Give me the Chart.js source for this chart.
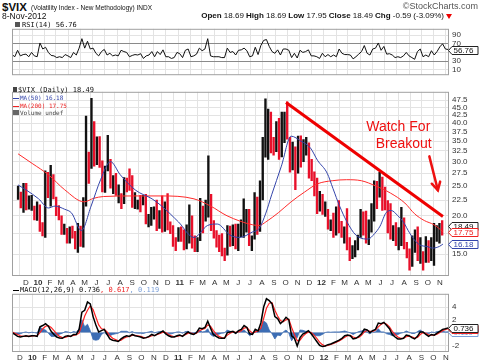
<!DOCTYPE html>
<html><head><meta charset="utf-8">
<script src="https://cdn.jsdelivr.net/npm/chart.js@4"></script>
<style>
body{margin:0;background:#fff;width:480px;height:363px;overflow:hidden;position:relative;font-family:"Liberation Sans",Arial,sans-serif;color:#111}
.t{position:absolute;white-space:nowrap;line-height:1}
.m{font-family:"DejaVu Sans Mono","Liberation Mono",monospace}
canvas{position:absolute;left:0}
</style></head><body>
<canvas id="c1" width="480" height="62" style="top:21px"></canvas>
<canvas id="c2" width="480" height="202" style="top:84px"></canvas>
<canvas id="c3" width="480" height="77" style="top:286px"></canvas>

<div class="t" style="left:2px;top:2.2px;font-size:11.5px;font-weight:bold">$VIX</div>
<div class="t" style="left:31px;top:5.2px;font-size:6.5px">(Volatility Index - New Methodology) INDX</div>
<div class="t" style="left:2px;top:12px;font-size:8.5px">8-Nov-2012</div>
<div class="t" style="right:36px;top:12px;font-size:8px"><b>Open</b> 18.69 <b>High</b> 18.69 <b>Low</b> 17.95 <b>Close</b> 18.49 <b>Chg</b> -0.59 (-3.09%)</div>
<div style="position:absolute;left:446px;top:14px;width:0;height:0;border-left:3px solid transparent;border-right:3px solid transparent;border-top:5px solid #e00"></div>
<div class="t" style="right:2px;top:2.3px;font-size:9px;color:#555">©StockCharts.com</div>

<div class="t m" style="left:15px;top:22px;font-size:7px"><span style="display:inline-block;width:5px;height:5px;background:#555;margin-right:2px"></span>RSI(14) 56.76</div>

<div class="t m" style="left:13px;top:87.2px;font-size:7px"><span style="display:inline-block;width:4px;height:5px;background:#444;margin-right:1px"></span>$VIX (Daily) 18.49</div>
<div class="t m" style="left:13px;top:95.3px;font-size:6px;color:#3344aa"><span style="display:inline-block;width:6px;height:1.5px;background:#3344aa;vertical-align:middle;margin-right:1px"></span>MA(50) 16.18</div>
<div class="t m" style="left:13px;top:103px;font-size:6px;color:#ee2222"><span style="display:inline-block;width:6px;height:1.5px;background:#ee2222;vertical-align:middle;margin-right:1px"></span>MA(200) 17.75</div>
<div class="t m" style="left:13px;top:110.3px;font-size:6px;color:#444"><span style="display:inline-block;width:6px;height:5px;background:#666;margin-right:1px"></span>Volume undef</div>

<div class="t m" style="left:13px;top:287.2px;font-size:7px"><span style="display:inline-block;width:6px;height:1.5px;background:#000;vertical-align:middle;margin-right:1px"></span>MACD(12,26,9) 0.736<span style="color:#e22">, 0.617</span><span style="color:#7a9fd8">, 0.119</span></div>

<script>
// ---- data (weekly, week 0 = week of 9-Nov-2009) ----
const highs = [
25.0,23.9,25.5,25.5,23.2,23.3,21.5,22.2,21.7,19.0,
28.0,27.7,29.2,27.2,23.0,21.6,20.0,18.8,18.2,18.4,
18.5,17.8,18.9,18.5,22.9,42.2,32.2,48.2,40.5,36.1,
36.2,30.2,29.0,36.5,30.5,27.0,27.5,25.2,23.6,26.6,
26.5,28.4,27.0,23.8,22.5,23.3,23.3,23.5,20.2,21.3,
21.4,22.5,20.8,23.2,22.2,23.6,19.1,18.6,17.0,18.3,
18.4,18.0,18.7,21.7,20.0,17.2,17.0,22.8,21.5,22.5,
31.3,23.5,19.3,17.9,17.3,17.5,15.7,18.6,18.5,18.7,
18.8,18.8,19.4,22.7,21.0,21.0,17.2,23.8,23.0,26.0,
36.0,48.0,44.5,43.5,36.0,40.5,41.5,43.5,43.5,46.9,
36.0,34.7,33.5,36.3,36.4,35.4,36.0,34.5,30.5,27.8,
26.5,24.0,23.5,22.2,21.0,19.4,20.4,21.4,22.4,19.2,
18.4,21.1,17.0,16.0,16.6,17.3,21.0,20.6,20.7,19.4,
21.9,26.0,25.9,27.7,26.7,24.8,22.4,21.9,18.6,19.0,
18.3,21.3,19.7,16.4,15.6,17.2,18.0,18.4,17.0,15.3,
17.1,16.6,17.0,18.9,18.6,18.9,19.3];
const lows = [
22.6,21.2,20.5,20.9,21.0,20.8,19.4,19.3,17.8,17.2,
17.0,22.9,21.5,22.7,20.0,19.4,17.4,17.4,16.3,16.3,
16.9,15.6,15.2,15.9,15.8,21.5,25.5,28.5,29.0,29.3,
28.7,23.9,23.8,28.0,24.6,23.6,23.3,22.0,21.1,21.9,
23.9,24.2,21.3,21.1,21.0,20.6,21.7,18.8,18.4,18.6,
19.5,17.9,18.2,17.7,17.8,18.0,17.5,15.9,15.4,16.5,
16.5,15.5,15.6,16.3,15.7,15.3,15.3,16.6,17.6,19.2,
19.8,17.9,16.9,15.8,15.3,14.8,14.3,14.9,15.9,16.0,
15.6,15.4,17.1,17.0,17.7,16.0,15.4,16.8,17.4,17.8,
22.5,31.0,30.5,32.0,31.5,32.3,30.5,31.1,34.6,35.5,
27.7,28.2,24.3,27.5,28.8,30.0,31.5,26.5,26.0,23.2,
20.3,20.7,20.2,19.9,18.1,17.9,17.0,17.3,17.6,17.0,
16.3,15.5,14.3,14.5,14.7,15.5,17.0,17.3,16.3,16.1,
17.7,19.2,21.1,23.0,20.8,20.9,17.6,16.8,16.6,16.0,
15.5,16.0,15.6,14.6,13.3,13.7,15.2,14.3,14.0,13.3,
14.1,14.1,14.3,13.8,16.5,16.3,17.3];
const closes = [
23.0,21.6,24.7,21.2,21.6,21.7,19.5,21.7,18.1,17.9,
27.3,24.6,26.1,22.7,20.0,19.5,17.4,17.6,16.9,17.8,
17.0,16.1,18.4,16.6,22.1,40.9,31.2,40.1,32.1,35.5,
28.8,24.3,28.5,30.1,24.9,26.3,23.5,23.5,22.1,26.2,
25.5,24.5,21.3,21.9,22.0,21.7,22.5,18.9,19.0,19.3,
21.2,18.3,20.6,18.0,22.0,18.0,17.6,16.1,16.0,17.8,
17.1,15.5,18.5,20.0,15.9,15.7,16.4,19.2,18.7,20.1,
24.3,18.0,17.4,16.3,15.3,15.1,14.8,18.4,17.1,17.4,
15.9,17.9,18.9,19.2,19.5,16.0,16.0,20.8,17.5,25.3,
32.0,36.4,43.1,35.6,33.9,38.5,30.9,41.3,43.0,36.2,
28.2,31.3,24.5,30.5,30.0,32.0,34.5,27.5,26.3,24.3,
20.7,23.4,20.6,20.9,18.3,18.5,17.1,21.0,17.8,17.3,
17.3,15.6,14.5,14.8,15.5,16.7,19.6,17.4,16.3,19.2,
20.0,25.1,21.8,26.7,21.2,21.1,20.1,17.1,17.1,16.1,
16.3,16.7,15.6,14.7,13.4,15.2,17.5,14.4,14.5,14.0,
15.7,14.3,15.3,17.1,17.8,18.6,18.49];
const rsi = [
45,40,55,42,45,46,40,50,42,40,
72,58,62,50,43,42,38,40,38,45,
42,38,50,44,60,82,60,76,58,60,
48,42,52,57,44,48,42,44,42,55,
52,50,40,43,45,44,47,36,42,44,
52,40,52,45,56,40,40,36,38,50,
47,38,55,58,40,42,46,60,54,58,
82,42,40,40,40,38,38,60,50,52,
44,55,56,60,54,40,42,62,45,66,
78,80,64,52,48,56,44,58,58,55,
38,48,37,55,50,52,56,42,42,40,
36,48,40,45,40,44,40,58,48,45,
45,44,35,40,46,52,66,48,44,58,
60,72,55,64,46,47,44,38,40,38,
42,50,42,38,34,52,58,40,44,40,
54,44,52,63,70,58,56.76];
const macd = [
0.0,-0.3,-0.6,-0.7,-0.6,-0.5,-0.6,-0.5,-0.5,-0.6,
0.9,1.1,1.4,1.0,0.2,-0.3,-0.7,-0.85,-0.9,-0.6,
-0.5,-0.6,-0.3,-0.3,0.5,3.2,3.5,4.8,4.5,2.5,
1.2,0.1,0.3,0.5,-0.3,-1.0,-1.2,-1.3,-1.4,-1.0,
-0.7,-0.5,-0.6,-0.3,-0.5,-0.6,-0.7,-0.9,-0.8,-0.6,
-0.3,-0.5,-0.2,0.0,0.25,-0.2,-0.5,-0.7,-0.7,-0.5,
-0.4,-0.6,-0.2,0.1,-0.2,-0.3,0.0,0.7,0.6,0.8,
1.8,0.7,-0.3,-0.6,-0.85,-0.9,-0.9,0.0,0.1,0.2,
-0.1,0.3,0.5,1.1,0.8,-0.2,-0.3,0.5,0.25,1.5,
4.0,5.3,5.0,4.5,2.5,2.2,1.4,1.8,2.4,2.0,
-0.5,-0.9,-2.1,-0.8,-0.25,0.0,0.3,-0.2,-0.8,-1.4,
-2.0,-2.2,-2.1,-1.9,-1.8,-1.6,-1.4,-1.2,-0.9,-0.5,
-0.4,-0.5,-1.0,-0.9,-0.6,-0.2,0.55,0.4,0.0,0.3,
0.5,1.5,1.4,1.6,1.1,0.6,-0.3,-0.7,-1.0,-1.0,
-0.9,-0.4,-0.5,-0.8,-1.0,-0.6,0.1,0.1,-0.3,-0.6,
-0.3,-0.4,-0.1,0.2,0.5,0.6,0.736];
const signal = [
0.1,-0.1,-0.3,-0.5,-0.6,-0.6,-0.55,-0.55,-0.5,-0.5,
0.0,0.6,1.0,1.1,0.8,0.3,-0.2,-0.6,-0.8,-0.75,
-0.6,-0.55,-0.45,-0.35,-0.1,1.2,2.6,3.5,4.2,3.6,
2.4,1.2,0.6,0.5,0.1,-0.5,-0.9,-1.1,-1.3,-1.2,
-0.9,-0.7,-0.6,-0.45,-0.45,-0.5,-0.6,-0.75,-0.8,-0.7,
-0.5,-0.45,-0.3,-0.15,0.05,0.0,-0.3,-0.5,-0.65,-0.6,
-0.5,-0.5,-0.35,-0.1,-0.1,-0.2,-0.1,0.3,0.5,0.65,
1.2,1.0,0.3,-0.2,-0.6,-0.8,-0.85,-0.4,-0.1,0.1,
0.05,0.1,0.3,0.7,0.8,0.3,-0.1,0.1,0.25,0.7,
2.2,3.8,4.6,4.7,3.5,2.6,1.9,1.7,2.0,2.1,
0.8,-0.3,-1.3,-1.2,-0.6,-0.2,0.1,0.0,-0.4,-0.9,
-1.5,-1.9,-2.1,-2.0,-1.85,-1.7,-1.5,-1.3,-1.05,-0.75,
-0.5,-0.45,-0.7,-0.85,-0.75,-0.45,0.1,0.35,0.2,0.2,
0.4,0.9,1.3,1.5,1.3,0.9,0.2,-0.3,-0.7,-0.9,
-0.9,-0.65,-0.55,-0.65,-0.85,-0.75,-0.3,0.0,-0.1,-0.4,
-0.4,-0.4,-0.25,0.0,0.3,0.5,0.617];
const hist = [
-0.1,-0.2,-0.3,-0.2,0.0,0.1,-0.05,0.05,0.0,-0.1,
0.9,0.5,0.4,-0.1,-0.6,-0.6,-0.5,-0.25,-0.1,0.15,
0.1,-0.05,0.15,0.05,0.6,2.0,0.9,1.3,0.3,-1.1,
-1.2,-1.1,-0.3,0.0,-0.4,-0.5,-0.3,-0.2,-0.1,0.2,
0.2,0.2,0.0,0.15,-0.05,-0.1,-0.1,-0.15,0.0,0.1,
0.2,-0.05,0.1,0.15,0.2,-0.2,-0.2,-0.2,-0.05,0.1,
0.1,-0.1,0.15,0.2,-0.1,-0.1,0.1,0.4,0.1,0.15,
0.6,-0.3,-0.6,-0.4,-0.25,-0.1,-0.05,0.4,0.2,0.1,
-0.15,0.2,0.2,0.4,0.0,-0.5,-0.2,0.4,0.0,0.8,
1.8,1.5,0.4,-0.2,-1.0,-0.4,-0.5,0.1,0.4,-0.1,
-1.3,-0.6,-0.8,0.4,0.35,0.2,0.2,-0.2,-0.4,-0.5,
-0.5,-0.3,0.0,0.1,0.05,0.1,0.1,0.1,0.15,0.25,
0.1,-0.05,-0.3,-0.05,0.15,0.25,0.45,0.05,-0.2,0.1,
0.1,0.6,0.1,0.1,-0.2,-0.3,-0.5,-0.4,-0.3,-0.1,
0.0,0.25,0.05,-0.15,-0.15,0.15,0.4,0.1,-0.2,-0.2,
0.1,0.0,0.15,0.2,0.2,0.1,0.119];
// moving averages read at calendar-day offsets from 9-Nov-2009
const ma50Days = [2,22,55,80,97,122,140,165,190,215,240,265,305,347,372,415,455,490,515,548,573,605,623,640,655,680,705,730,755,773,798,813,830,848,872,903,920,934,950,963,980,995,1010,1026,1040,1054,1070,1087,1096];
const ma50Vals = [25.2,24.3,22.7,21.2,21.5,21.0,20.4,17.9,21.5,26.3,30.0,27.2,24.2,22.7,21.5,19.1,17.0,18.6,18.8,17.3,17.0,17.7,18.2,20.4,23.4,29.0,36.3,35.0,33.2,30.3,27.5,24.5,21.5,19.2,17.3,16.8,17.5,18.5,20.5,20.8,20.0,19.0,17.6,16.5,16.0,15.9,15.7,15.9,16.18];
const ma200Days = [2,40,80,122,172,197,222,297,372,455,498,540,605,623,640,673,705,740,773,811,848,886,923,961,998,1023,1048,1073,1096];
const ma200Vals = [31.8,29.5,27.2,24.3,22.2,22.8,23.1,23.2,23.2,22.7,21.5,20.0,18.7,18.6,19.1,20.5,22.2,23.9,25.4,26.0,26.2,26.0,25.0,23.7,22.0,20.3,19.3,18.7,17.75];
const trendDays = [692,1096];
const trendVals = [46.7,19.9];
const priceTicks = [15,17.5,20,22.5,25,27.5,30,32.5,35,37.5,40,42.5,45,47.5];
const rsiTicks = [10,30,50,70,90];
const macdTicks = [-2,0,2,4];
const months = ['D','10','F','M','A','M','J','J','A','S','O','N','D','11','F','M','A','M','J','J','A','S','O','N','D','12','F','M','A','M','J','J','A','S','O','N'];
const noteLines = ['Watch For','Breakout'];

// ---- helpers ----
const FONT = '"Liberation Sans", Arial, sans-serif';
Chart.defaults.font.family = FONT;
Chart.defaults.font.size = 8;
Chart.defaults.color = '#333';
const monthDays = months.map((_, k) => (Date.UTC(2009, 11 + k, 1) - Date.UTC(2009, 10, 9)) / 86400000);
const wx = i => 7 * i + 2;
const pts = arr => arr.map((v, i) => ({x: wx(i), y: v}));
const pairs = (d, v) => d.map((x, i) => ({x, y: v[i]}));
const GRID = '#e3e3e3';

function xScale(show, h, pad) {
  return {
    type: 'linear', position: 'bottom', min: 2, max: 1096,
    afterBuildTicks: s => { s.ticks = monthDays.map(v => ({value: v})); },
    afterFit: s => { s.height = h; },
    grid: {color: GRID, drawTicks: false},
    border: {display: false},
    ticks: {display: show, autoSkip: false, maxRotation: 0, padding: pad, color: '#333',
      callback: (v, i) => months[i],
      font: c => ({family: FONT, size: 8, weight: /\d/.test(months[c.index]) ? 'bold' : 'normal'})}
  };
}
function yScale(type, min, max, tickVals, fmt, gridColor) {
  return {
    type, position: 'right', min, max,
    afterBuildTicks: s => { s.ticks = tickVals.map(v => ({value: v})); },
    afterFit: s => { s.width = 31; },
    grid: {color: gridColor || GRID, drawTicks: false},
    border: {display: false},
    ticks: {autoSkip: false, padding: 3, color: '#333', font: {family: FONT, size: 8}, callback: fmt}
  };
}
const frame = {id: 'frame', afterDatasetsDraw(c) {
  const {ctx, chartArea: a} = c;
  ctx.save(); ctx.strokeStyle = '#a0a0a0'; ctx.lineWidth = 1;
  ctx.strokeRect(a.left + 0.5, a.top + 0.5, a.right - a.left - 1, a.bottom - a.top - 1);
  ctx.restore();
}};
function drawBox(ctx, y, text, border, color) {
  const x0 = 452, x1 = 478, h = 8;
  y = Math.round(y) + 0.5;
  ctx.save();
  ctx.beginPath();
  ctx.moveTo(448.5, y); ctx.lineTo(x0, y - h / 2); ctx.lineTo(x1, y - h / 2);
  ctx.lineTo(x1, y + h / 2); ctx.lineTo(x0, y + h / 2); ctx.closePath();
  ctx.fillStyle = '#fff'; ctx.fill();
  ctx.strokeStyle = border; ctx.lineWidth = 1; ctx.stroke();
  ctx.fillStyle = color; ctx.font = '8px ' + FONT; ctx.textAlign = 'left'; ctx.textBaseline = 'middle';
  ctx.fillText(text, x0 + 1.5, y + 0.5);
  ctx.restore();
}
function boxes(list) {
  return {id: 'boxes', afterDraw(c) {
    const ys = c.scales.y;
    list.forEach(b => drawBox(c.ctx, ys.getPixelForValue(b.v), b.t, b.b, b.c));
  }};
}
const common = {
  responsive: false, animation: false, events: [],
  layout: {padding: {left: 12, right: 0, top: 0, bottom: 0}},
  plugins: {legend: {display: false}, tooltip: {enabled: false}},
  elements: {point: {radius: 0}}
};
const last = a => a[a.length - 1];

// ---- RSI panel ----
new Chart(document.getElementById('c1'), {
  type: 'line',
  data: {datasets: [{data: pts(rsi), borderColor: '#111', borderWidth: 1, tension: 0}]},
  options: Object.assign({}, common, {
    scales: {
      x: xScale(false, 0, 0),
      y: yScale('linear', -3, 105, rsiTicks, v => String(v),
        c => (c.tick && (c.tick.value === 70 || c.tick.value === 30)) ? '#8a8a8a' : GRID)
    }
  }),
  plugins: [frame, boxes([{v: last(rsi), t: last(rsi).toFixed(2), b: '#222', c: '#111'}])]
});

// ---- price panel ----
const barColors = closes.map((c, i) => (i === 0 || c >= closes[i - 1]) ? '#111' : '#e8102a');
const notes = {id: 'notes', afterDatasetsDraw(c) {
  const {ctx} = c, xs = c.scales.x, ys = c.scales.y;
  ctx.save();
  ctx.fillStyle = '#ee1111'; ctx.font = '14px ' + FONT; ctx.textAlign = 'center'; ctx.textBaseline = 'middle';
  ctx.fillText(noteLines[0], xs.getPixelForValue(981), ys.getPixelForValue(38.9));
  ctx.fillText(noteLines[1], xs.getPixelForValue(995), ys.getPixelForValue(34.3));
  const x1 = xs.getPixelForValue(1061), y1 = ys.getPixelForValue(31.2);
  const x2 = xs.getPixelForValue(1083), y2 = ys.getPixelForValue(24.2);
  ctx.strokeStyle = '#ee1111'; ctx.lineWidth = 2.5; ctx.lineCap = 'round';
  ctx.beginPath(); ctx.moveTo(x1, y1); ctx.lineTo(x2, y2); ctx.stroke();
  const ang = Math.atan2(y2 - y1, x2 - x1), L = 9;
  ctx.beginPath();
  ctx.moveTo(x2 - L * Math.cos(ang - 0.5), y2 - L * Math.sin(ang - 0.5));
  ctx.lineTo(x2, y2);
  ctx.lineTo(x2 - L * Math.cos(ang + 0.5), y2 - L * Math.sin(ang + 0.5));
  ctx.stroke();
  ctx.restore();
}};
new Chart(document.getElementById('c2'), {
  type: 'line',
  data: {datasets: [
    {data: pairs(trendDays, trendVals), borderColor: '#ee0000', borderWidth: 3, order: 0},
    {data: pairs(ma50Days, ma50Vals), borderColor: '#3344aa', borderWidth: 1, cubicInterpolationMode: 'monotone', order: 1},
    {data: pairs(ma200Days, ma200Vals), borderColor: '#ff2a2a', borderWidth: 1, cubicInterpolationMode: 'monotone', order: 2},
    {type: 'bar', data: highs.map((h, i) => ({x: wx(i), y: [lows[i], h]})), backgroundColor: barColors,
     barThickness: 1.7, borderWidth: 0, order: 3}
  ]},
  options: Object.assign({}, common, {
    scales: {
      x: xScale(true, 10, 2),
      y: yScale('logarithmic', 12.74, 50.6, priceTicks, v => Number(v).toFixed(1))
    }
  }),
  plugins: [frame, notes, boxes([
    {v: last(closes), t: last(closes).toFixed(2), b: '#222', c: '#111'},
    {v: last(ma200Vals), t: last(ma200Vals).toFixed(2), b: '#ee2222', c: '#ee2222'},
    {v: last(ma50Vals), t: last(ma50Vals).toFixed(2), b: '#3344aa', c: '#3344aa'}
  ])]
});

// ---- MACD panel ----
new Chart(document.getElementById('c3'), {
  type: 'line',
  data: {datasets: [
    {data: pts(macd), borderColor: '#000', borderWidth: 1.5, tension: 0, order: 0},
    {data: pts(signal), borderColor: '#ff2222', borderWidth: 1.2, tension: 0, order: 1},
    {data: pts(hist), borderColor: '#3c6db4', backgroundColor: '#3c6db4', borderWidth: 0.8, fill: 'origin', tension: 0, order: 2}
  ]},
  options: Object.assign({}, common, {
    scales: {
      x: xScale(true, 11, 1),
      y: yScale('linear', -3.05, 6.08, macdTicks, v => String(v))
    }
  }),
  plugins: [frame, boxes([
    {v: last(hist), t: last(hist).toFixed(3), b: '#7a9fd8', c: '#7a9fd8'},
    {v: last(signal), t: last(signal).toFixed(3), b: '#ee2222', c: '#ee2222'},
    {v: last(macd), t: last(macd).toFixed(3), b: '#222', c: '#111'}
  ])]
});
</script>
</body></html>
